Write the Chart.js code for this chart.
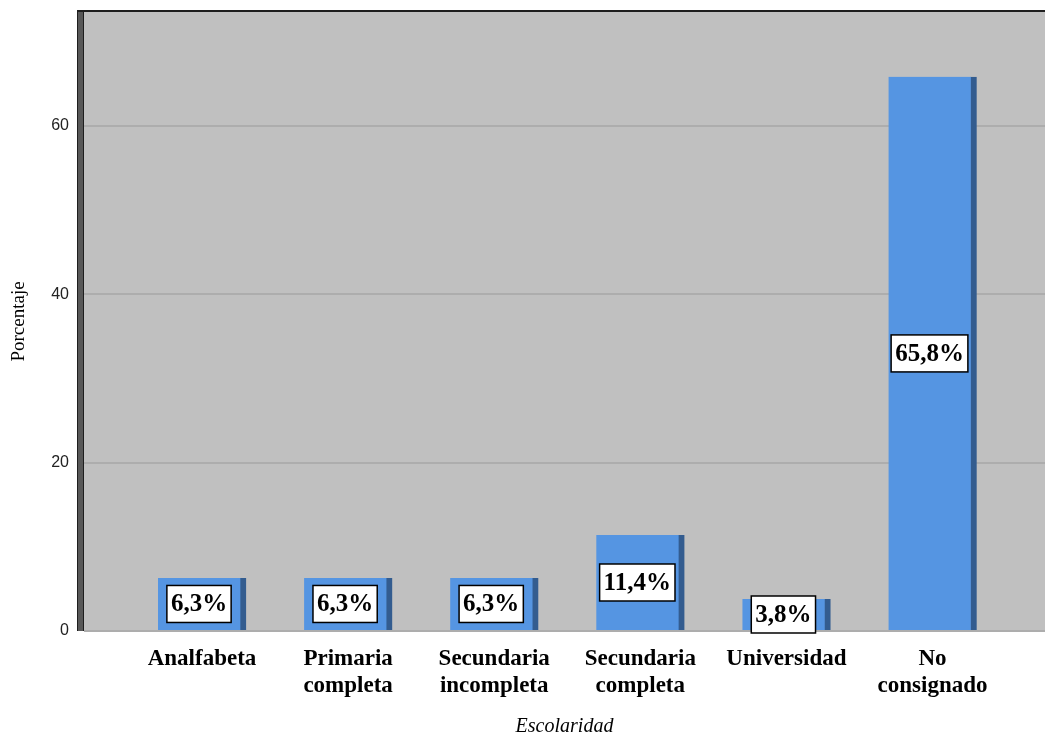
<!DOCTYPE html>
<html>
<head>
<meta charset="utf-8">
<script src="https://cdn.jsdelivr.net/npm/chart.js@4/dist/chart.umd.min.js"></script>
<style>
  html, body { margin: 0; padding: 0; background: #fff; }
  #wrap { width: 1045px; height: 740px; }
</style>
</head>
<body>
<div id="wrap"><canvas id="escolaridad"></canvas></div>
<script>
let categorias = [
  'Analfabeta',
  ['Primaria', 'completa'],
  ['Secundaria', 'incompleta'],
  ['Secundaria', 'completa'],
  'Universidad',
  ['No', 'consignado']
];
let porcentajes = [6.3, 6.3, 6.3, 11.4, 3.8, 65.8];
let ticksY = [0, 20, 40, 60];

// gray plot background, dark left wall and top edge
let fondo = {
  id : 'fondo',
  beforeDraw(chart) {
    let {ctx, chartArea : a} = chart;
    ctx.save();
    ctx.fillStyle = '#c0c0c0';
    ctx.fillRect(a.left, a.top, a.right - a.left, a.bottom - a.top);
    ctx.restore();
  },
  afterDraw(chart) {
    let {ctx, chartArea : a} = chart;
    ctx.save();
    ctx.fillStyle = '#1e1e1e';
    ctx.fillRect(a.left - 7, a.top - 2, a.right - a.left + 7, 2);
    ctx.fillRect(a.left - 7, a.top - 2, 7, a.bottom - a.top + 2);
    ctx.fillStyle = '#585858';
    ctx.fillRect(a.left - 6, a.top, 5, a.bottom - a.top);
    ctx.restore();
  }
};

// white value boxes in the middle of each bar
let etiquetas = {
  id : 'etiquetas',
  afterDatasetsDraw(chart) {
    let ctx = chart.ctx;
    let meta = chart.getDatasetMeta(0);
    ctx.save();
    ctx.font = 'bold 25px "Liberation Serif"';
    ctx.textAlign = 'center';
    ctx.textBaseline = 'middle';
    meta.data.forEach((bar, i) => {
      let txt = porcentajes[i].toFixed(1).replace('.', ',') + '%';
      let cx = bar.x - 3;
      let cy = (bar.y + bar.base) / 2;
      let w = ctx.measureText(txt).width + 8;
      let h = 37;
      ctx.fillStyle = '#ffffff';
      ctx.fillRect(cx - w / 2, cy - h / 2, w, h);
      ctx.strokeStyle = '#000000';
      ctx.lineWidth = 1.5;
      ctx.strokeRect(cx - w / 2, cy - h / 2, w, h);
      ctx.fillStyle = '#000000';
      ctx.fillText(txt, cx, cy + 1);
    });
    ctx.restore();
  }
};

let config = {
  type : 'bar',
  data : {
    datasets : [{
      data : porcentajes.map((v, i) => ({x : i, y : v})),
      backgroundColor : '#5595e2',
      borderColor : '#335c8f',
      borderWidth : {top : 0, left : 0, bottom : 0, right : 6},
      borderSkipped : false,
      barThickness : 88
    }]
  },
  options : {
    responsive : true,
    maintainAspectRatio : false,
    animation : false,
    layout : {padding : {top : 12, left : 0, right : 0, bottom : 0}},
    plugins : {
      legend : {display : false},
      tooltip : {enabled : false}
    },
    scales : {
      x : {
        type : 'linear',
        offset : false,
        min : -0.8077,
        max : 5.770,
        grid : {display : false, drawTicks : false},
        border : {display : false},
        afterBuildTicks : axis => { axis.ticks = categorias.map((c, i) => ({value : i})); },
        afterFit : axis => { axis.height = 109; axis.paddingLeft = 0; axis.paddingRight = 0; },
        ticks : {
          autoSkip : false,
          maxRotation : 0,
          padding : 14,
          color : '#000',
          font : {family : 'Liberation Serif', size : 23, weight : 'bold', lineHeight : 1.18},
          callback : v => categorias[v]
        },
        title : {
          display : true,
          text : 'Escolaridad',
          color : '#000',
          font : {family : 'Liberation Serif', size : 20, style : 'italic'},
          padding : {top : 0, bottom : 1}
        }
      },
      y : {
        min : 0,
        max : 73.5,
        grid : {color : '#adadad', lineWidth : 2, drawTicks : false},
        border : {display : false},
        afterBuildTicks : axis => { axis.ticks = ticksY.map(v => ({value : v})); },
        afterFit : axis => { axis.width = 84; axis.paddingTop = 0; axis.paddingBottom = 0; },
        ticks : {
          padding : 15,
          color : '#222',
          font : {family : 'Liberation Sans', size : 16}
        },
        title : {
          display : true,
          text : 'Porcentaje',
          color : '#000',
          font : {family : 'Liberation Serif', size : 19},
          padding : {top : 8, bottom : 0}
        }
      }
    }
  },
  plugins : [fondo, etiquetas]
};

let grafico = new Chart(document.getElementById('escolaridad').getContext('2d'), config);
</script>
</body>
</html>
